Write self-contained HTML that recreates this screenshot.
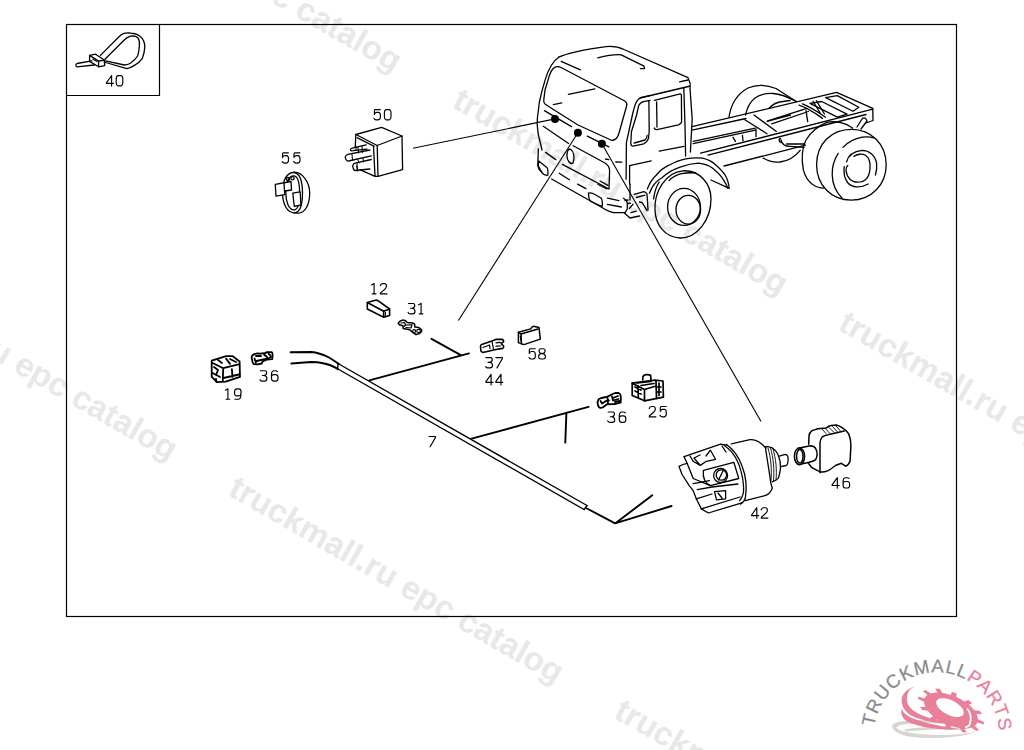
<!DOCTYPE html>
<html><head><meta charset="utf-8">
<style>
html,body{margin:0;padding:0;background:#fff;}
body{width:1024px;height:750px;overflow:hidden;position:relative;}
svg{position:absolute;left:0;top:0;}
.wm{font-family:"Liberation Sans",sans-serif;font-weight:bold;font-size:33px;fill:#e8e8e8;}
</style></head><body>
<svg width="1024" height="750" viewBox="0 0 1024 750">
<!-- watermarks -->
<g transform="rotate(30)" class="wm">
<text x="-2.5" y="-133.5">truckmall.ru epc catalog</text>
<text x="443.5" y="-133.5">truckmall.ru epc catalog</text>
<text x="889" y="-133.5">truckmall.ru epc catalog</text>
<text x="-2.5" y="314.8">truckmall.ru epc catalog</text>
<text x="443.5" y="314.8">truckmall.ru epc catalog</text>
<text x="889" y="314.8">truckmall.ru epc catalog</text>
</g>
<!-- frame -->
<g fill="none" stroke="#000" stroke-width="1.2">
<rect x="66.5" y="24.5" width="890" height="592"/>
<polyline points="159.5,24.5 159.5,95.5 66.5,95.5"/>
</g>
<g id="truck" fill="none" stroke="#000" stroke-width="1.3" stroke-linecap="round" stroke-linejoin="round">
<!-- roof outline -->
<path d="M558.8,57.2 C567,53 585,49.5 606,46.6 C612,46 618,46.6 624,49.5 L688,77.6 L690.4,84.2"/>
<path d="M597.8,57.8 C605,56 613,54.2 621.2,54.8 L644,66.2 L644.6,68.6 L640.4,68.6"/>
<path d="M561.2,61.4 L580.4,69.8"/>
<path d="M679.6,81.8 L688,80"/>
<!-- cab left outline -->
<path d="M558.8,57.2 C552,61.5 548,70 545,80.4 L541.8,91.6 L539.4,102 L537.4,118 L537.2,124.8 L538.2,134 L542,150"/>
<!-- windshield -->
<path d="M554.6,67.4 C557,66 559,66.5 562,68 L624.8,101 C627,102.5 627.2,104 626.6,106 L619,133 C618,137 616,140 612,140.5 L578,125 L553,109.2 L545,104 C543.5,102.5 543.5,101 543.8,99.6 L545,90 L548.2,79.6 C549.5,74 551.5,69.5 554.6,67.4"/>
<path d="M568.4,94.4 L594.8,88.8"/>
<path d="M553.4,104.6 L561.8,102.8"/>
<!-- front face lines -->
<path d="M544.4,110.6 L571.5,126.6"/>
<path d="M543.3,126.2 L568.6,143.5"/>
<path d="M587.3,136.1 L608.9,146.8"/>
<!-- grille -->
<path d="M573.2,145.8 L605,163 C608,165 609.5,167 609.6,170.4 L609,189 L562.4,164.4"/>
<path d="M600,181 L608,185.4 M598,184.5 L607,189"/>
<!-- star -->
<path d="M570,149 C574,151 575,158 573,163 C570,165 567,160 567,156 C567,152 568,149 570,149 Z"/>
<!-- left headlight / corner -->
<path d="M538.4,148.8 L537.8,164.4 C538,168 540,171 542,172"/>
<path d="M538.4,160.8 L546.8,167.4 C547.8,168.5 548,170 548,172 L547.8,175.2 C546,175.5 544,175 542,173 L538.4,166 Z"/>
<path d="M545.6,152.4 L555.8,159.6"/>
<!-- lower front lines -->
<path d="M559.2,173.3 L569.4,179.7"/>
<path d="M577.6,184.1 L585.9,188.6"/>
<path d="M551.6,179 L601.1,207 C605,209.5 609,212 614,212.7"/>
<path d="M588.4,193 C590,192.5 592,193 594,194 L601,198 C602,199 602.4,201 602.4,205 L602,206.5 L591,201.5 C589.5,200.5 589,199 588.8,197 Z"/>
<path d="M607.4,198.1 L618.9,200.6 M607.4,204.4 L621.4,207"/>
<path d="M537.6,161.3"/>
<!-- step / tow -->
<path d="M634.2,194.3 L643.8,191.7 C645.5,192 646.5,193 647,194 L648,210"/>
<path d="M636.3,197.5 L644.9,195.1 M639.5,202 L642.2,202.6 L647,210.6"/>
<path d="M623.5,198.3 C625.5,199.5 627,201 627.3,202.6 L627.3,209 L624.6,213.3 L630,218 L639.5,216"/>
<path d="M629.4,208.5 L633.1,204.2 M631,212.7 L636.3,211.1"/>
<path d="M625,200.5 L628,200 M627.5,203.5 L630.5,203.2"/>
<path d="M614,212.7 L624.6,212.7"/>
<!-- door -->
<path d="M650,95.6 L644,96.8 C641,97 638,98.5 636.2,102.2 C634.5,106 633.5,110 632.4,115 L626.4,142.6 L626.1,179.2"/>
<path d="M650,100.4 L643.4,101.6 C641.5,102 640,103 638.6,105.8 L636.6,115 L631.4,131.8 L630.8,143.5 C631,145.5 632,146.2 633,146.2 L643.8,143.8 C646,142.5 648,140.5 648.6,137.8 L649.2,131.2 L648.9,101"/>
<path d="M634.2,143 L645,140 C646.5,138.5 647,137 647.2,135.5"/>
<path d="M629.6,165.6 L651.2,160.8 M629.6,165.6 L629.6,184"/>
<path d="M605.6,159 L608.8,159.6 M615.8,162 L621.8,162.2"/>
<path d="M659.2,151.2 L684,146.4"/>
<!-- cab side -->
<path d="M640,98 L690.4,86"/>
<path d="M654.4,100.4 L680.2,93.8 C681,94 681.4,94.5 681.4,95 L681.6,121.5 C681.5,123 680.5,124 678.4,124.8 L657,129.6 C655.5,129.6 654.4,129 654.4,128"/>
<path d="M656.6,102 L657,127"/>
<path d="M683.8,87.8 L685,125 L685.6,156"/>
<path d="M689.8,85.4 L692.2,119 L690.4,152"/>
<path d="M630,184 L630,200"/>
<!-- fender -->
<path d="M647.3,189 C650,182 653,178 656.4,175 C660,170.5 664,167.5 669,165.2 C675,162 680,160 685.8,158.9 C692,157.8 697,157.7 702.6,158.2 C708,159.5 712,161.5 715.2,164.5 C719,168 722.5,171 725,175 C727.5,179 728.8,184 729.2,188.3 L711,180"/>
<path d="M649.4,193.2 C652,186 656,181 662,177.8 C668,172 674,169 681.6,166.6 C688,164.2 693,163.4 698.4,163.1 C704,163.8 709,165.5 712.4,168 C716,171 719.5,174 722.2,177.8 C725,182 726.8,185 727.8,188.3"/>
<path d="M653.6,198.8 C654.5,192 656.5,186 659.2,182"/>
<!-- front wheel -->
<path d="M655,210 C654,193 665,172 683,170.8 C700,170 711,184 711,198.8 C711,220 697,238 680.2,238 C665,237.5 655.5,225 655,210 Z"/>
<path d="M669,180.6 C673,176.5 677,174.5 681.6,173.6 C686,172.8 691,172.6 695.6,172.9"/>
<ellipse cx="684" cy="206.9" rx="16.4" ry="18.5"/>
<ellipse cx="688.3" cy="209.7" rx="12.3" ry="14.4"/>
<!-- chassis -->
<path d="M692,126.7 L836.6,92.4 L872.8,108.4 L873,120.5 L866,123"/>
<path d="M692,130.2 L746,118.5 M767,121.4 L790.5,115"/>
<path d="M744.8,119.7 L767,133.75 M754,115 L776.4,131.4"/>
<path d="M693.2,141.4 L755.3,128.2 M693.2,143.7 L755.3,130.2"/>
<path d="M700.6,153.2 L872.8,109.2"/>
<path d="M708,155.2 L866,114.5"/>
<path d="M724,166 L805.5,145.2"/>
<path d="M733,137.3 L735.4,141.4 M742.4,135.5 L743,140.8 M756,129 L756,136.7"/>
<path d="M767.8,120.8 L806.9,108.3 M771.7,123.9 L808.4,111.5"/>
<path d="M799,105.2 C808,108 815,113 822.5,118.4 M802.5,103.8 C811,107 818,112 825.5,117.2 M813,101.25 L820.2,113 M816.5,100.8 L824.5,114"/>
<path d="M806,110.6 L807.7,121.6"/>
<path d="M825.6,97.6 L837.3,95.6 L858.8,107.3 L853,111.25 Z"/>
<path d="M810,103.4 L821.7,101.5 L847,114.2 L837.3,117.1 Z"/>
<path d="M780.7,142.5 C778.5,141 778.5,139 780.5,138.5 M781,140 C782,145 786,146.4 790,146.4 L804.1,147.4 M786.6,144 L804,144"/>
<path d="M857,127 L862,119 C863,117.5 865,117.5 866,119 L867,121 L861,129"/>
<!-- rear wheels -->
<path d="M729,117 C731,104 737,94 748,88 C756,84.5 766,84.5 776,88.5 L796.3,101.5"/>
<path d="M745.5,115 C747,108 750,102 755,98 C760,94.5 767,93.2 773,93.5 C780,94 786,96 796.3,101.5"/>
<path d="M769,108.3 C772,105 777,102 782.7,101.5 L790,100.5"/>
<path d="M763,158 C768,161 774,162.5 780,162 C788,161 794,158 800.2,150.3"/>
<path d="M827.4,122.2 C818,126 811,132 806,140 C802,148 801.5,160 803.4,170.2 C805,176 808,181 812,184 C816,187 820,188 823.8,188.2"/>
<path d="M827.4,122.2 C834,121 845,122 852.6,128.2"/>
<path d="M816.6,164.8 C816.6,144 831,129.4 851.4,129.4 C871,129.4 886.2,144 886.2,164.8 C886.2,185 871,200.2 851.4,200.2 C831,200.2 816.6,185 816.6,164.8 Z"/>
<path d="M838.2,153.4 C834,160 832,168 832.2,175 C832.5,184 836,192 841.8,197.8"/>
<path d="M843,147.4 C848,142 855,138.5 862.2,137.2 C867,136.6 871,137 874,138"/>
<path d="M846.6,161.8 C848,156 853,151.5 862.2,150.4 C869,150.5 875,155 876.6,163 C877,168 876.5,172 875.4,175"/>
<path d="M844.2,166.6 C843.5,172 844,178 848,183 C852,187.5 860,188.5 868.2,184"/>
<path d="M853.8,156.4 C857,154 862,153.5 865,155 C869,157.5 870.5,163 870,168.5 C869.5,176 866,182.2 857.7,182.2 C851,182.2 846.5,177 846,170 C845.8,168.5 846.5,166.5 847.8,165.4"/>
</g>

<g id="parts" fill="none" stroke="#000" stroke-width="1.3" stroke-linecap="round" stroke-linejoin="round">
<!-- 40 cable tie -->
<path d="M100.4,55.4 L120.8,35 C124,32.5 127,32.5 130.4,33 C135,33.5 138,34.5 140,36.2 C143.5,39 145,43 144.8,47.6 C144.5,52 143.5,55 142.4,58.4 C140,62 137,64 134,65.6 C131,67.5 129,68.3 126.8,68.6 L104,62"/>
<path d="M105.2,59 L123.2,41 C125.5,38.5 127.5,37 130.4,36.2 C133,35.8 136,36 137.6,37.4 C139.5,40 139.8,42 139.4,45.2 C139.2,50 138.5,53 137.6,56 C135.5,59.5 133,61.5 130.4,63.2 C128.5,64.3 126.5,64.8 124.4,65 L105.5,60.8"/>
<path d="M89.6,55.4 L95.6,54.2 L104.6,60.2 L104.6,65.6 L98.6,66.8 L89.6,61.4 Z"/>
<path d="M89.6,55.4 L98.6,61 L98.6,66.8 M98.6,61 L104.6,60.2"/>
<path d="M93,59 L97,61.5"/>
<path d="M92,60.8 L77,63.5 C75.5,64 75.5,66.5 77,66.8 L94.4,65"/>
<!-- 50 relay -->
<path d="M355.9,134.5 L381.6,127.4 L402,136 L377.2,145.5 Z"/>
<path d="M377.2,145.5 L378,176.4 L402.6,169.6 L402,136"/>
<path d="M357.4,137.8 L374.3,146.3 M373.5,146.3 L375,175.6 M355.9,134.5 L355.2,147 M360.3,169.8 L375,176.4 L378,176.4"/>
<path d="M366.2,144.8 L352.3,148.1 C350.5,148.6 350,150 351,150.8 L353,150.7 L367,149.2"/>
<path d="M369.9,150 L347.9,154.3 C345.5,155 344.8,157.5 345.7,159 C346.3,160.5 347.5,161.2 348.6,161 L371.3,155.8"/>
<path d="M371.3,159.5 L355.2,163.2 C353,163.8 352.2,166 353,167.5 C353.5,169.5 354.2,170.5 355.2,170.5 L369.9,169"/>
<path d="M358,147.5 L358.5,153 M362,146.5 L362.5,152.5 M358,160 L359,163 M363,158.5 L363.5,162 M352,154.5 L352.5,160 M357,163.5 L357.5,169.5" stroke-width="1"/>
<path d="M356,150 L356,146.5 M357.5,171 L356.5,166" stroke-width="1"/>
<!-- 55 -->
<path d="M294,172.5 C287,172.3 282.5,180 282.5,192 C282.5,204 287,212.5 294,212.8 C300,213 302.5,205 302.5,193 C302.5,181 299.5,172.7 294,172.5 Z"/>
<path d="M294,172.2 C302,172 309.7,182 309.7,193 C309.7,205 305,213 298,213.2 L294,212.8"/>
<path d="M293.5,175.8 C288.5,175.8 285.8,183 285.8,192.5 C285.8,202 288.8,209.8 294,209.8 C298.5,209.8 299.6,202 299.6,193 C299.6,184 297.8,175.8 293.5,175.8 Z"/>
<path fill="#fff" d="M275.3,184.4 L291,181.5 L291.5,190 L284.5,191 L284.8,194.7 L276,196.2 Z"/><path d="M284,183 L284.5,191"/>
<path fill="#fff" d="M292.8,193.2 L300.2,191.8 L300.9,205 L294.3,206.4 Z"/>
<circle cx="288" cy="179" r="1.6"/><circle cx="292.5" cy="178.2" r="1.6"/>
<!-- 12 -->
<g stroke-width="1.6">
<path d="M367.3,302.5 L375.5,300.2 C377,299.8 378,300.5 379,301.4 L389.6,309 L383.7,311.3 Z"/>
<path d="M367.3,302.5 L367.3,309 L383.7,317.2 L389.6,315.4 L389.6,309 M383.7,311.3 L383.7,317.2"/>
<path d="M385.5,312.5 L385.5,315.5" stroke-width="1"/>
</g>
<!-- 31 -->
<g stroke-width="1.5">
<path d="M398.2,323.3 L400.3,321 L402.6,320.1 L405,320.4 L407.3,322.5 L412.6,323 L414.6,324.2 L414.9,327.1 L418.5,327.4 L421.4,329.5 L421.7,331.2 L419.3,333.6 L416.1,334.5 L412.6,332.4 L409.7,329.8 L403.2,328.6 L402.9,325.7 L399.4,324.8 Z"/>
<path d="M401,323 L404.5,322.5 L405.5,325 L404,326.5 M405.5,325 L412,324.8 L411,328 L406,327.5" stroke-width="1.2"/>
<ellipse cx="414.2" cy="331" rx="1.6" ry="1.4" stroke-width="1.1"/><ellipse cx="418.6" cy="331" rx="1.9" ry="1.6" stroke-width="1.1"/>
</g>
<!-- 37 -->
<g stroke-width="1.6">
<path d="M480.5,346.4 C480.5,345 481,344.5 481.7,344.5 L491.9,340.9 L495.8,339.4 L502,339.4 C503,339.5 503.8,340.5 503.6,341.7 L501.25,343.7 L503.6,346 C503.8,347 503.5,348 502.8,348.4 L495.8,349.5 L484,352.3 C482,352.5 480.9,351.5 480.9,350.7 Z"/>
<path d="M483,347.5 L489.5,345 L490,348.5 M492,341.5 L493.5,349 M496,342.8 L500.5,342.3 M496,346.2 L500.5,346" stroke-width="1.2"/>
</g>
<!-- 58 -->
<g stroke-width="1.5">
<path d="M518.4,332.3 L530.7,328.9 C531.5,327.5 532.5,326.2 533.5,326.2 L539,327.5 L540.3,339.1 L523.9,344.6 L518.4,342.6 Z"/>
<path d="M518.4,332.3 L521,334 L538,329 M521,334 L521.5,344" />
<path d="M520.3,336 L520.8,341" stroke-width="1.1"/>
</g>
<!-- 19 -->
<g stroke-width="1.8">
<path d="M211.7,360.6 L226.1,356.2 L232.8,356.2 L239.6,361.5 L240,376.9 L225.6,381.7 L217,382.2 L211.7,376.9 Z"/>
<path d="M212.7,363 L223.2,368.2 L238.6,364.4 M223.2,368.2 L222.8,380.7 M231.9,369.2 L232.4,376.9 M223.5,378 L239,374.5"/>
<path d="M226.1,358.6 L230,363.9 M218,360 L222,363 M230,359 L236,362"/>
<path d="M214,367 L218,370 L216,375 M212.5,373 L220,377 M216,379 L216.5,382"/>
</g>
<!-- 36 left -->
<g stroke-width="1.8">
<path d="M251.5,357.4 C252,355.5 253,354.3 255,354 L257.1,353.3 L260.9,353.6 L265.6,353 L266.5,352.1 L271.7,352.1 C272.5,353 272.6,354 272.6,354.4 L272.3,359.1 L266.8,359.7 L262.6,361.5 L261.8,363.5 L257.7,364.4 L253.9,364.1 C252.5,363 252.4,362 252.4,361.2 Z"/>
<path d="M256,356 L261,356 M254.5,358.5 L256,363 M256.5,361 L268,358.5 L271,357 M264,354.5 L267,357 M268.5,353.8 L270.5,355.5"/>
</g>
<!-- 36 right -->
<g stroke-width="1.8">
<path d="M597.5,402.3 L598.6,399.3 L601.3,398 L606.3,397 L609.6,395.6 L612.6,394 L615.3,393 L618.6,393 C620,393.8 620.6,394.5 620.6,395.3 L620.9,399.3 L620.6,402.6 L614.6,404 L607,404.3 L603,407.3 L600.3,408 C599,407.5 598.3,406.5 598,405.3 Z"/>
<path d="M600.5,401 L602,403.5 L606,401 L609,400.5 M607.5,397.5 L608,403.5 M612,396.5 L613,400.5 L618.5,399 M613,398 L618,396 M615,402 L619.5,401"/>
</g>
<!-- 25 -->
<g stroke-width="1.7">
<path d="M632.2,383.2 L655,380.1 L663,381 L663.4,397.2 L644.5,400.8 L632.2,395.5 Z"/>
<path d="M632.2,383.2 L644.5,389.5 L656,386 M644.5,389.5 L644.5,400.8 M656,381 L656.5,398.5"/>
<path d="M635,387 L641,390 M635,391 L641,394 M638,385.5 L638.3,397.5"/>
<path d="M637,383 L651,381.5 M641,385.5 L654,383.5"/>
<path d="M642.7,380 L643,376.5 C644,374.5 648,374 650.6,375.3 L651,380"/>
<path d="M659,383 L659,395.5 M657,387 L661,387 M657,392 L661,392"/>
</g>
<!-- 46 -->
<g stroke-width="1.5">
<path d="M808.7,444.2 L809,436 C809.2,434 810,432 812,430.6 L817.9,428.8 L826,428.1 C828,426.5 829.5,425.6 831,425.5 L836.9,425.1 C839,425.8 841,426.8 842.8,428.1 C845.5,429.8 847.5,431.5 848.7,433.9 C850.3,437.5 850.9,441 850.9,445.7 L850.1,461 C849.3,463.5 847.5,465.5 845.7,466.2 L841.3,463.3 L835.5,465.5 C833,467.5 830.5,469.5 828.1,470.6 C825.5,471.7 823,472.2 820.8,472 C817.5,470.5 814.5,469.3 812,467.7 L808.3,463.3"/>
<path d="M820,472.8 L820,442.7 C820.2,440 821,438.5 822.3,436.9 C824,435.5 826,435 828.1,434.7 L844.3,431"/>
<path d="M822,429 L826,433.5 M825.5,428.8 L830,433.5 M829,427.5 L834,432.5 M832.5,426.5 L837.5,432 M836,426 L840.5,431" stroke-width="0.9"/>
<path fill="#fff" d="M798,448.2 L810.5,445.7 C813,445.8 815,447 815.7,448.6 C816.8,450.5 817.1,452.5 817.1,454.5 C817,456.5 816.5,458 815.7,459.6 C813.5,461.5 811,462 808.3,462.5 L801,464"/>
<ellipse cx="799.5" cy="456.3" rx="5.1" ry="8.4" fill="#fff"/>
<ellipse cx="799.8" cy="456.3" rx="3.2" ry="6.8"/>
</g>
<!-- 42 -->
<path d="M731.3,443.8 L750,439.7 C754,439.5 758,441 761,443.5 L766,448"/>
<path d="M726.6,444.4 C734,450 739,457 742,466 C746,476 747,488 745.3,498.3 C744.5,501 742.5,503 740.6,504.1"/>
<path d="M724.2,445.5 C731,450 735.5,456 739,465 C742,473 743.6,482 743.6,490 C743.5,494 742,498 739.5,500.6" stroke-dasharray="2,0.8"/>
<path d="M765.2,446.7 C767,458 769,470 770.5,481 C771,485 772,487 772.3,488 C771,492 768,495 764.1,495.9 L745.3,500.6"/>
<path d="M765.2,446.7 C768,446.5 770,447 772.3,447.9 C775,450 777.5,452 778.1,454.9 C780,459 780.8,464 780.5,467.8 C780,472 779.5,476 778.1,478.4 C776,480.5 774,481.5 772.3,481.9"/>
<path d="M768,448 C771,458 772,470 771,481 M770.5,448 C773.5,458 774.5,470 773.5,481 M773,449 C776,459 777,470 776,480" stroke-width="0.9"/>
<path d="M779.3,456.1 L785.2,454.3 C787,454.5 788.3,456.5 788.1,459.6 C788,462.5 787.5,465 786.3,465.5 L780.5,466.6"/>
<path d="M684.1,456.7 L720.6,444.1 L726.7,445.1"/>
<path d="M684.1,456.7 L687.1,463.3 L683,464.5 L679,466.4 L682.1,474.5 L689.2,485.6 L693.2,490.7 L696.3,498.8 L701.3,508.9 L708.4,513 L741.9,502.8"/>
<path d="M687.1,463.3 L693.2,478.5 L710.4,485.6 M693.2,461.3 L700.3,465.4 L706.4,461.3 L715.5,459.3 L710.4,450.2 L706,456 M700.3,465.4 L694,458 L700,455"/>
<path d="M703.4,470.4 L733.8,462.3 L738.8,478.5 L710.4,485.6 C705,483 702.5,478 703.4,470.4 Z"/>
<circle cx="720.6" cy="475.5" r="7"/>
<circle cx="721.4" cy="475" r="5.2"/>
<path d="M718.5,480 L723.5,470"/>
<path d="M693.2,483.6 L709.4,480.6 M697.3,489.7 L712,487 L738,484"/>
<path d="M714.5,491.7 L725.6,490.7 L725.6,498.8 L716.5,499.8 Z M718,493 L722,498"/>
<path d="M696.3,498.8 L712,494 M701.3,508.9 L740,497"/>
<path d="M690,456 L693,461 M722,446 L726,452"/>
</g>

<!-- harness -->
<g fill="none" stroke="#000" stroke-linecap="round" stroke-linejoin="round">
<path d="M290.6,352.3 L311.4,352 C318,352.5 324,355 329,357.5 C333,360 336,362 338.9,364" stroke-width="1.9"/>
<path d="M291.4,363.5 L310.8,362 C316,362 320,362.5 323.1,363.2 C328,364 333,366 338,369" stroke-width="1.9"/>
<path d="M338.9,364 L587,505.5 M338,369 L584.1,509.5" stroke-width="1.4"/>
<path d="M338,363.5 L337.5,369.5 M587,505.5 L584.1,509.5" stroke-width="1.4"/>
<path d="M586,508 L615.1,523.4 L652.3,495.3 M615.1,523.4 L671.6,506" stroke-width="1.9"/>
<path d="M369.4,380.4 L469,353.4 M431.5,338.8 L460.8,355.2" stroke-width="1.9"/>
<path d="M471.7,438.7 L588.5,406.8 M566.4,412.6 L565.3,442.6" stroke-width="1.9"/>
</g>
<!-- leader lines -->
<g fill="none" stroke="#000" stroke-width="1.1">
<line x1="413" y1="148.3" x2="555" y2="118.9"/>
<line x1="577.9" y1="132.8" x2="458.4" y2="320.5"/>
<line x1="601.9" y1="143.8" x2="761" y2="421.4"/>
</g>
<g fill="#000">
<circle cx="555" cy="118.9" r="4"/>
<circle cx="577.9" cy="132.8" r="4"/>
<circle cx="601.9" cy="143.8" r="4"/>
</g>
<!-- labels -->
<g class="lbl" fill="none" stroke="#000" stroke-width="1.15" stroke-linecap="round" stroke-linejoin="round">
<path transform="translate(106.1,75.1)" d="M5.5,11 L5.5,0.4 L0.3,7.7 L0.3,8.3 L7.4,8.3"/>
<path transform="translate(115.9,75.1)" d="M1.8,0.5 L5.3,0.5 C6.3,0.9 6.9,1.9 6.9,3.2 L6.9,8 C6.9,9.5 6.2,10.5 5,10.8 L2.1,10.8 C0.9,10.5 0.3,9.5 0.3,8 L0.3,3.2 C0.3,1.9 0.8,0.9 1.8,0.5 Z"/>
<path transform="translate(373.7,109.1)" d="M6.6,0.5 L1.6,0.5 C1,0.6 0.7,1.1 0.7,1.8 L0.7,5.3 M0.8,5 C1.3,4 2,3.3 3,3.3 L4.6,3.3 C6,3.5 6.7,4.5 6.7,5.9 L6.7,8 C6.7,9.8 5.7,10.8 4,10.8 L2.4,10.8 C1.3,10.6 0.7,10 0.4,9.3"/>
<path transform="translate(384.1,109.1)" d="M1.8,0.5 L5.3,0.5 C6.3,0.9 6.9,1.9 6.9,3.2 L6.9,8 C6.9,9.5 6.2,10.5 5,10.8 L2.1,10.8 C0.9,10.5 0.3,9.5 0.3,8 L0.3,3.2 C0.3,1.9 0.8,0.9 1.8,0.5 Z"/>
<path transform="translate(281.8,152.3)" d="M6.6,0.5 L1.6,0.5 C1,0.6 0.7,1.1 0.7,1.8 L0.7,5.3 M0.8,5 C1.3,4 2,3.3 3,3.3 L4.6,3.3 C6,3.5 6.7,4.5 6.7,5.9 L6.7,8 C6.7,9.8 5.7,10.8 4,10.8 L2.4,10.8 C1.3,10.6 0.7,10 0.4,9.3"/>
<path transform="translate(293.3,152.3)" d="M6.6,0.5 L1.6,0.5 C1,0.6 0.7,1.1 0.7,1.8 L0.7,5.3 M0.8,5 C1.3,4 2,3.3 3,3.3 L4.6,3.3 C6,3.5 6.7,4.5 6.7,5.9 L6.7,8 C6.7,9.8 5.7,10.8 4,10.8 L2.4,10.8 C1.3,10.6 0.7,10 0.4,9.3"/>
<path transform="translate(370.6,283.1)" d="M1,1.8 L3.5,0.4 L3.5,10.8 M1.7,10.8 L5.3,10.8"/>
<path transform="translate(379.8,283.1)" d="M0.5,2.6 C0.8,1.3 1.6,0.5 2.6,0.5 L4.9,0.5 C5.9,0.6 6.6,1.3 6.6,2.4 L6.6,3.6 C6.4,4.8 5.6,5.6 4.6,6.5 L0.6,10 L0.6,10.8 L7.2,10.8"/>
<path transform="translate(408.0,303.0)" d="M0.4,0.5 L5.4,0.5 C6.3,0.7 6.8,1.5 6.8,2.5 C6.8,4 5.8,5 4,5.2 L2.5,5.2 M4,5.2 C5.9,5.4 7,6.4 7,8.2 C7,9.8 6,10.8 4.5,10.8 L1.9,10.8 C1,10.7 0.4,10.1 0.1,9.4"/>
<path transform="translate(417.6,303.0)" d="M1,1.8 L3.5,0.4 L3.5,10.8 M1.7,10.8 L5.3,10.8"/>
<path transform="translate(485.5,357.1)" d="M0.4,0.5 L5.4,0.5 C6.3,0.7 6.8,1.5 6.8,2.5 C6.8,4 5.8,5 4,5.2 L2.5,5.2 M4,5.2 C5.9,5.4 7,6.4 7,8.2 C7,9.8 6,10.8 4.5,10.8 L1.9,10.8 C1,10.7 0.4,10.1 0.1,9.4"/>
<path transform="translate(495.7,357.1)" d="M0.2,0.5 L6.8,0.5 L6.6,1.6 L1.3,10.8"/>
<path transform="translate(485.6,374.0)" d="M5.5,11 L5.5,0.4 L0.3,7.7 L0.3,8.3 L7.4,8.3"/>
<path transform="translate(495.5,374.0)" d="M5.5,11 L5.5,0.4 L0.3,7.7 L0.3,8.3 L7.4,8.3"/>
<path transform="translate(528.6,348.2)" d="M6.6,0.5 L1.6,0.5 C1,0.6 0.7,1.1 0.7,1.8 L0.7,5.3 M0.8,5 C1.3,4 2,3.3 3,3.3 L4.6,3.3 C6,3.5 6.7,4.5 6.7,5.9 L6.7,8 C6.7,9.8 5.7,10.8 4,10.8 L2.4,10.8 C1.3,10.6 0.7,10 0.4,9.3"/>
<path transform="translate(538.5,348.2)" d="M3.5,5.3 C1.6,5.2 0.6,4.3 0.6,2.8 L0.6,1.8 C0.7,0.9 1.3,0.5 2.1,0.5 L5,0.5 C5.9,0.6 6.6,1.1 6.6,2 L6.6,2.8 C6.5,4.3 5.5,5.2 3.5,5.3 C1.3,5.5 0.1,6.5 0.1,8 L0.1,8.6 C0.2,10 1,10.8 2.5,10.8 L4.6,10.8 C6.1,10.8 6.9,10 6.9,8.6 L6.9,8 C6.9,6.5 5.7,5.5 3.5,5.3 Z"/>
<path transform="translate(224.4,388.4)" d="M1,1.8 L3.5,0.4 L3.5,10.8 M1.7,10.8 L5.3,10.8"/>
<path transform="translate(234.3,388.4)" d="M0.6,10.8 L4.5,10.8 C5.6,10.5 6.2,9.5 6.4,8.5 L6.7,3 C6.7,1.5 5.9,0.5 4.5,0.5 L2.5,0.5 C1,0.7 0.3,1.7 0.3,3 L0.3,5.5 C0.3,6.6 1,7.3 2.2,7.5 L4.5,7.5 C5.7,7.4 6.4,6.5 6.7,5.5"/>
<path transform="translate(259.9,370.3)" d="M0.4,0.5 L5.4,0.5 C6.3,0.7 6.8,1.5 6.8,2.5 C6.8,4 5.8,5 4,5.2 L2.5,5.2 M4,5.2 C5.9,5.4 7,6.4 7,8.2 C7,9.8 6,10.8 4.5,10.8 L1.9,10.8 C1,10.7 0.4,10.1 0.1,9.4"/>
<path transform="translate(271.2,370.3)" d="M6.3,1.3 C5.8,0.7 5,0.5 4.2,0.5 L2.5,0.5 C1,0.7 0.3,2 0.3,4 L0.3,8 C0.3,9.8 1.2,10.8 2.8,10.8 L4.5,10.8 C6,10.7 6.8,9.7 6.8,8.2 L6.8,6.8 C6.8,5.2 5.8,4.3 4.3,4.3 L2.8,4.3 C1.6,4.3 0.7,5 0.3,6"/>
<path transform="translate(428.8,436.0)" d="M0.2,0.5 L6.8,0.5 L6.6,1.6 L1.3,10.8"/>
<path transform="translate(607.7,411.5)" d="M0.4,0.5 L5.4,0.5 C6.3,0.7 6.8,1.5 6.8,2.5 C6.8,4 5.8,5 4,5.2 L2.5,5.2 M4,5.2 C5.9,5.4 7,6.4 7,8.2 C7,9.8 6,10.8 4.5,10.8 L1.9,10.8 C1,10.7 0.4,10.1 0.1,9.4"/>
<path transform="translate(619.0,411.5)" d="M6.3,1.3 C5.8,0.7 5,0.5 4.2,0.5 L2.5,0.5 C1,0.7 0.3,2 0.3,4 L0.3,8 C0.3,9.8 1.2,10.8 2.8,10.8 L4.5,10.8 C6,10.7 6.8,9.7 6.8,8.2 L6.8,6.8 C6.8,5.2 5.8,4.3 4.3,4.3 L2.8,4.3 C1.6,4.3 0.7,5 0.3,6"/>
<path transform="translate(648.7,406.0)" d="M0.5,2.6 C0.8,1.3 1.6,0.5 2.6,0.5 L4.9,0.5 C5.9,0.6 6.6,1.3 6.6,2.4 L6.6,3.6 C6.4,4.8 5.6,5.6 4.6,6.5 L0.6,10 L0.6,10.8 L7.2,10.8"/>
<path transform="translate(659.6,406.0)" d="M6.6,0.5 L1.6,0.5 C1,0.6 0.7,1.1 0.7,1.8 L0.7,5.3 M0.8,5 C1.3,4 2,3.3 3,3.3 L4.6,3.3 C6,3.5 6.7,4.5 6.7,5.9 L6.7,8 C6.7,9.8 5.7,10.8 4,10.8 L2.4,10.8 C1.3,10.6 0.7,10 0.4,9.3"/>
<path transform="translate(751.3,507.3)" d="M5.5,11 L5.5,0.4 L0.3,7.7 L0.3,8.3 L7.4,8.3"/>
<path transform="translate(760.7,507.3)" d="M0.5,2.6 C0.8,1.3 1.6,0.5 2.6,0.5 L4.9,0.5 C5.9,0.6 6.6,1.3 6.6,2.4 L6.6,3.6 C6.4,4.8 5.6,5.6 4.6,6.5 L0.6,10 L0.6,10.8 L7.2,10.8"/>
<path transform="translate(831.8,477.2)" d="M5.5,11 L5.5,0.4 L0.3,7.7 L0.3,8.3 L7.4,8.3"/>
<path transform="translate(842.8,477.2)" d="M6.3,1.3 C5.8,0.7 5,0.5 4.2,0.5 L2.5,0.5 C1,0.7 0.3,2 0.3,4 L0.3,8 C0.3,9.8 1.2,10.8 2.8,10.8 L4.5,10.8 C6,10.7 6.8,9.7 6.8,8.2 L6.8,6.8 C6.8,5.2 5.8,4.3 4.3,4.3 L2.8,4.3 C1.6,4.3 0.7,5 0.3,6"/>
</g>
<g id="logo">
<defs>
<path id="arcp" d="M874.3,726.8 A62.8,62.8 0 1 1 995.6,756.5"/>
</defs>
<g fill="#d6d6cf">
<path d="M892,726 C893,721.5 906,719.8 925,720 C948,720.3 968,723 983.5,728.5 C970,725 950,723.2 928,723.2 C908,723.2 897.5,724.5 896.5,727.5 C897.5,731.5 915,734.5 940,735 C955,735 968,733.5 976,732 C965,736 947,738 929,738 C905,738 893,733 892,726 Z"/>
<path d="M904,729.5 C918,727 945,726.5 975,729 C950,728.8 925,729.5 906,731.5 Z"/>
</g>
<g fill="#e9809a">
<path d="M918.3,685.4 C910,687 902.5,692 901.7,699 C901,706 905,712 912,716 C922,721 940,724 958.4,724.9 L966.2,724.4 C955,723 945,722 935,719.5 C925,717 915,713 910.5,708 C906,703 906,696 909,691 C911,688 914,686 918.3,685.4 Z"/>
<path d="M901.7,708.8 C900.5,713 901.5,718 907,721.5 C917,726.5 935,729.5 950,729.8 L961.3,729.3 C945,727 925,723.5 912,718 C906,715.5 903,712 901.7,708.8 Z"/>
<path fill-rule="evenodd" d="M976.3,724.4 L974.5,726.0 L979.2,729.8 L976.4,731.1 L971.2,727.5 L968.1,728.2 L964.6,728.5 L966.8,732.5 L962.4,732.2 L959.5,728.1 L955.4,727.3 L951.2,726.1 L950.2,729.3 L945.4,727.4 L945.6,724.0 L941.5,721.9 L937.7,719.6 L933.8,721.1 L929.8,718.1 L933.1,716.2 L930.1,713.5 L927.7,710.7 L922.0,710.0 L920.0,706.8 L925.4,706.9 L924.4,704.2 L924.0,701.7 L918.0,699.1 L918.4,696.4 L924.6,698.6 L925.7,696.6 L927.5,695.0 L922.8,691.2 L925.6,689.9 L930.8,693.5 L933.9,692.8 L937.4,692.5 L935.2,688.5 L939.6,688.8 L942.5,692.9 L946.6,693.7 L950.8,694.9 L951.8,691.7 L956.6,693.6 L956.4,697.0 L960.5,699.1 L964.3,701.4 L968.2,699.9 L972.2,702.9 L968.9,704.8 L971.9,707.5 L974.3,710.3 L980.0,711.0 L982.0,714.2 L976.6,714.1 L977.6,716.8 L978.0,719.3 L984.0,721.9 L983.6,724.6 L977.4,722.4 Z M963.4,714.4 L962.7,715.3 L961.7,716.1 L960.4,716.6 L958.9,716.9 L957.1,717.0 L955.2,716.9 L953.1,716.5 L951.0,715.9 L948.8,715.1 L946.7,714.1 L944.6,713.0 L942.7,711.7 L941.0,710.3 L939.5,708.9 L938.2,707.4 L937.2,705.9 L936.6,704.5 L936.3,703.1 L936.3,701.9 L936.6,700.8 L937.3,699.9 L938.3,699.1 L939.6,698.6 L941.1,698.3 L942.9,698.2 L944.8,698.3 L946.9,698.7 L949.0,699.3 L951.2,700.1 L953.3,701.1 L955.4,702.2 L957.3,703.5 L959.0,704.9 L960.5,706.3 L961.8,707.8 L962.8,709.3 L963.4,710.7 L963.7,712.1 L963.7,713.3 Z"/>
</g>
<path d="M967.1,708.5 C971,713 971.5,719 969.6,724.8 C968,726.5 966.5,727 965,727.5" fill="none" stroke="#fff" stroke-width="1.8"/>
<text font-family="Liberation Sans, sans-serif" font-size="18.5" letter-spacing="0.95" stroke-width="0.25"><textPath href="#arcp" startOffset="0"><tspan fill="#8a8a8a" stroke="#8a8a8a">TRUCKMALL</tspan><tspan fill="#e9809a" stroke="#e9809a">PARTS</tspan></textPath></text>
</g>

</svg>
</body></html>
